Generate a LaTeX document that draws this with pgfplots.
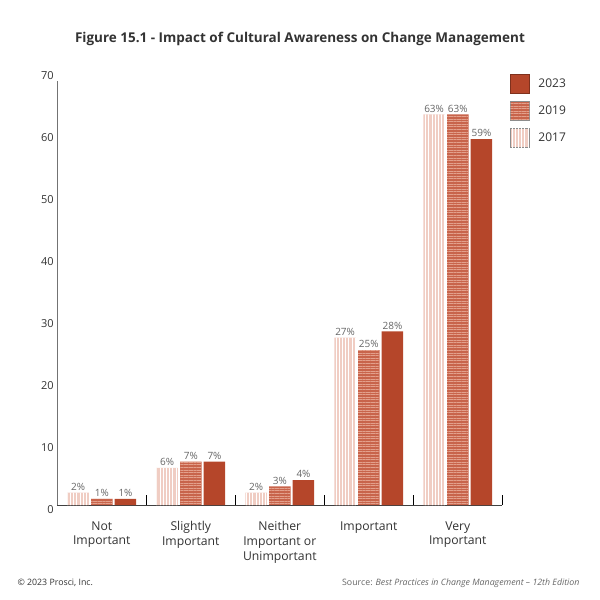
\documentclass[border=0pt]{standalone}
\usepackage{pgfplots}
\pgfplotsset{compat=1.18}
\usepackage{fontspec}
\setmainfont{Open Sans}
\usetikzlibrary{patterns.meta}
\definecolor{c23}{HTML}{B5462A}
\definecolor{c19}{HTML}{C8644B}
\definecolor{c17}{HTML}{F0CDC3}
\definecolor{s19}{HTML}{E3A08C}
\definecolor{txt}{HTML}{333333}
\definecolor{lbl}{HTML}{666666}
\newcommand{\fs}[2]{\fontsize{#1bp}{#2bp}\selectfont}
\pgfplotsset{sqlegend/.style={legend image code/.code={\draw[##1, draw=#1] (0bp,-9.5bp) rectangle (19bp,9.5bp);}}}

\begin{document}
\begin{tikzpicture}
\useasboundingbox (-57.3bp,-95bp) rectangle (542.7bp,505bp);
\begin{axis}[
  at={(0,0)}, anchor=south west, scale only axis,
  width=445bp, height=434bp,
  xmin=-0.5, xmax=4.5, ymin=0, ymax=70,
  ybar=2.2bp, bar width=21.5bp,
  axis x line*=bottom, axis y line*=left,
  y axis line style={draw=none},
  x axis line style={draw=black!75, line width=0.8bp, -},
  tick align=inside,
  /pgf/number format/assume math mode=true,
  xtick={0,...,4},
  xticklabels={Not\\Important, Slightly\\Important, Neither\\Important or\\Unimportant, Important, Very\\Important},
  minor xtick={0.5,1.5,...,4.5},
  major tick length=0pt, minor tick length=10bp,
  minor tick style={draw=black, line width=0.8bp},
  ytick={0,10,...,70},
  yticklabel style={font=\fs{11}{13}, text=txt, yshift=-5bp},
  xticklabel style={font=\fs{12.2}{14.7}, text=txt, align=center, anchor=north, yshift=-13bp},
  nodes near coords={\pgfmathprintnumber{\pgfplotspointmeta}\%},
  every node near coord/.append style={font=\fs{10}{12}, text=lbl, inner sep=2pt},
  legend style={at={(1.017,0.993)}, anchor=north west, draw=none, fill=none,
    inner sep=0pt, row sep=7.5bp, font=\fs{12}{14}, text=txt,
    nodes={inner sep=0pt, anchor=west}},
  legend cell align=left,
  reverse legend,
  clip=false,
]
\addplot[fill=c17, draw=none, postaction={pattern={Lines[angle=90, distance=3.2bp, line width=0.7bp]}, pattern color=white},
  legend image code/.code={\draw[fill=c17, draw=black!45] (0bp,-9.5bp) rectangle (19bp,9.5bp);}]
  coordinates {(0,2) (1,6) (2,2) (3,27) (4,63)};
\addplot[fill=c19, draw=none, postaction={pattern={Lines[angle=0, distance=2.6bp, line width=0.6bp]}, pattern color=s19}, sqlegend=black!45]
  coordinates {(0,1) (1,7) (2,3) (3,25) (4,63)};
\addplot[fill=c23, draw=none, sqlegend=c23!70!black]
  coordinates {(0,1) (1,7) (2,4) (3,28) (4,59)};
\legend{\hspace{9bp}2017, \hspace{9bp}2019, \hspace{9bp}2023}
\draw[black!55, line width=0.8bp] (axis cs:-0.5,0) -- (axis cs:-0.5,68.4);
\end{axis}
\node[font=\fs{13.5}{16}\bfseries, text=txt] at (242.7bp,466bp) {Figure 15.1 - Impact of Cultural Awareness on Change Management};
\node[font=\fs{8.8}{11}, text=txt, anchor=west] at (-43.3bp,-78bp) {© 2023 Prosci, Inc.};
\node[font=\fs{8.8}{11}, text=lbl, anchor=east] at (525.7bp,-78bp) {Source: \textit{Best Practices in Change Management – 12th Edition}};
\end{tikzpicture}
\end{document}
